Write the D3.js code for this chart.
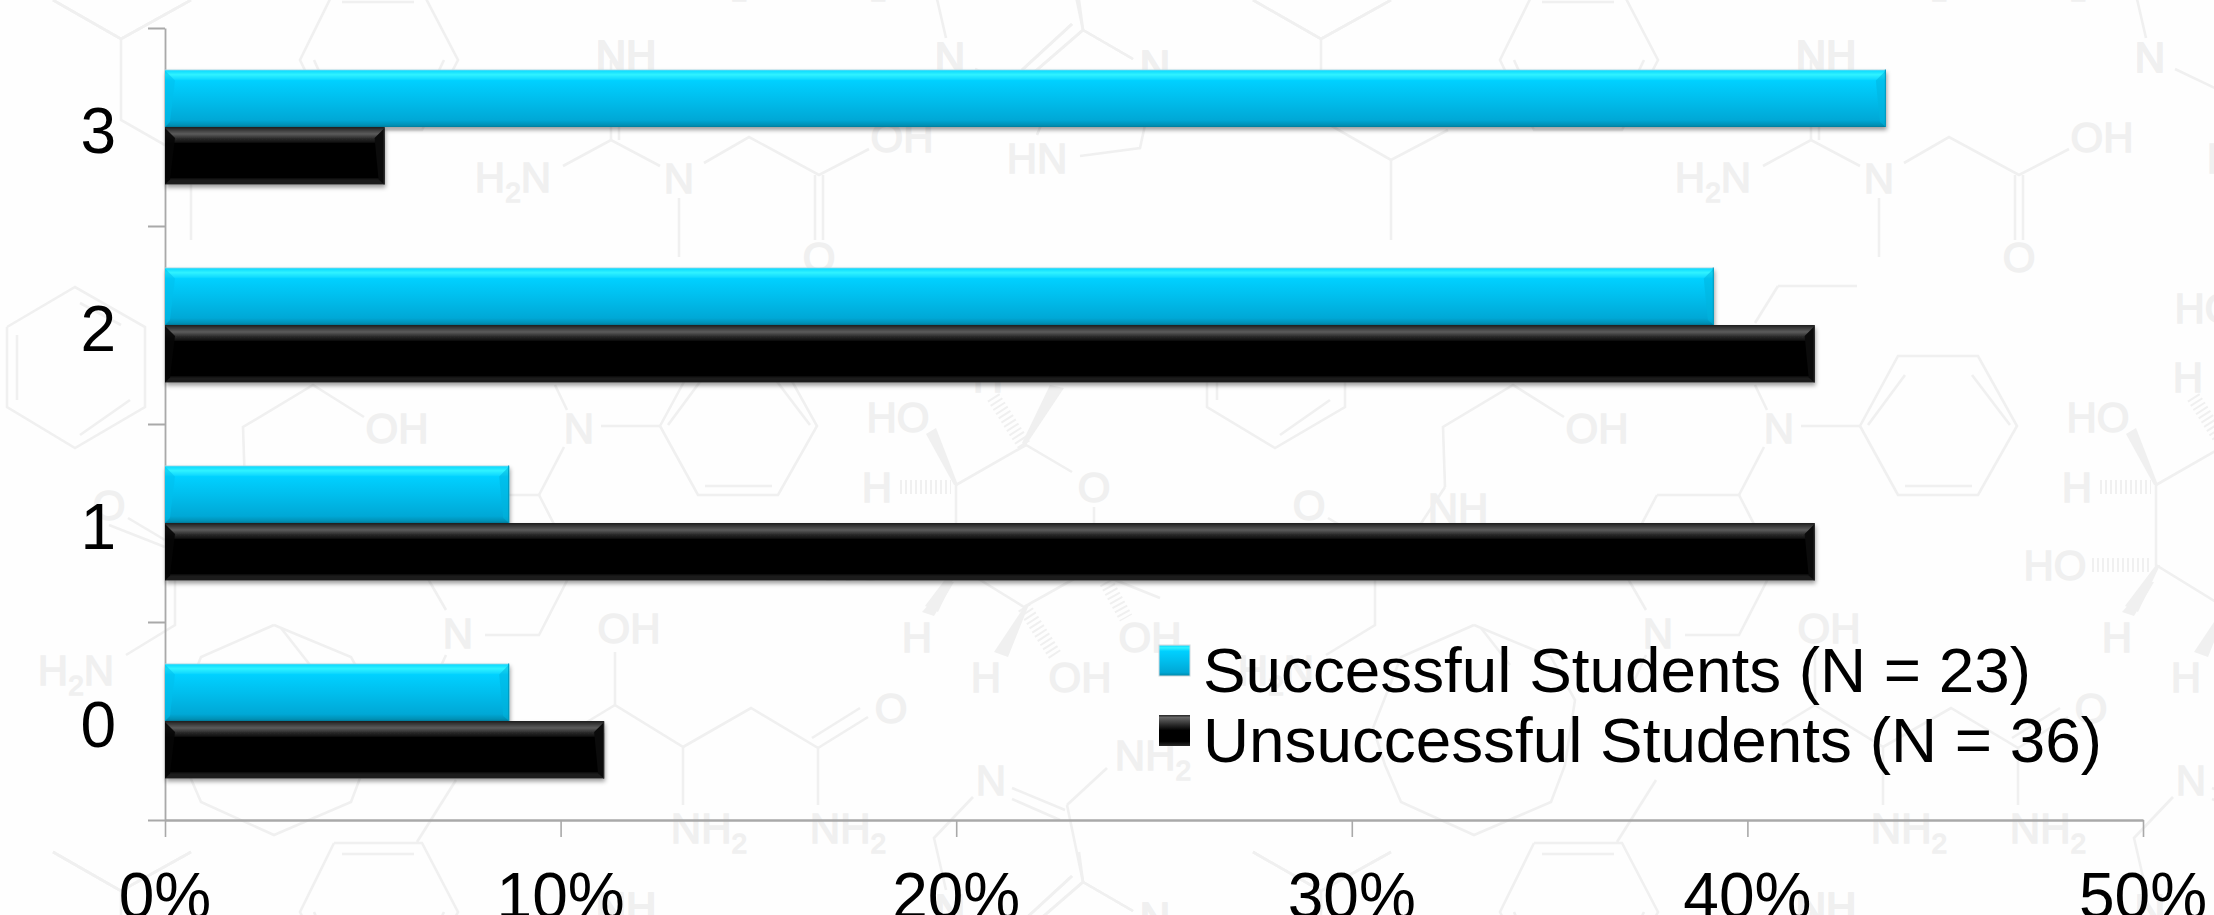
<!DOCTYPE html>
<html><head><meta charset="utf-8">
<script src="https://cdnjs.cloudflare.com/ajax/libs/d3/7.8.5/d3.min.js"></script>
<style>
html,body{margin:0;padding:0;background:#fff;overflow:hidden}
svg{display:block}
text{font-family:"Liberation Sans",Arial,sans-serif}
</style></head><body>
<svg id="c" width="2214" height="915"></svg>
<script>
// ---- chart data ----
const categories = ["3","2","1","0"];
const seriesNames = ["Successful Students (N = 23)","Unsuccessful Students (N = 36)"];
const successful = [43.5, 39.15, 8.7, 8.7];
const unsuccessful = [5.55, 41.7, 41.7, 11.1];
const xTickValues = [0,10,20,30,40,50];

// ---- decorative chemical watermark (one 1200x852 tile) ----
const wmLines = [
 [[53,0],[121,39],[191,0]],[[121,39],[121,120],[191,160],[248,130]],[[191,160],[191,240]],[[53,852],[121,891],[191,852]],
 [[334,-9],[422,-9],[458,60],[422,130],[334,130],[300,60],[334,-9]],[[342,2],[414,2]],[[314,60],[340,118]],[[444,60],[416,118]],
 [[611,60],[611,140]],[[619,70],[619,140]],[[563,166],[611,140],[660,166]],[[679,198],[679,257]],
 [[704,163],[749,137],[819,175],[869,149]],[[815,175],[815,240]],[[823,175],[823,240]],
 [[975,69],[1040,100]],[[1083,30],[1133,59]],[[1083,30],[1031,75]],[[1072,24],[1022,70]],[[1083,30],[1079,0]],
 [[1080,156],[1140,148],[1145,125]],[[1037,135],[1045,115]],
 [[7,327],[75,287],[145,327],[145,407],[75,448],[7,407],[7,327]],[[17,335],[17,400]],[[80,303],[121,325]],[[80,435],[130,400]],
 [[364,417],[313,385],[243,427],[245,487]],[[601,426],[660,426]],[[660,426],[698,356],[778,356],[817,426],[778,495],[698,495],[660,426]],
 [[668,425],[705,375]],[[772,375],[810,425]],[[705,486],[772,486]],
 [[578,286],[657,286]],[[578,286],[555,323]],[[555,385],[567,410]],[[564,447],[539,495]],
 [[457,495],[539,495],[575,565],[539,635],[485,635]],[[457,495],[420,565],[446,610]],[[446,655],[430,690]],[[456,780],[417,842]],
 [[109,525],[165,547]],[[128,518],[165,540]],[[175,555],[175,625],[126,655]],[[245,487],[220,525]],
 [[274,625],[201,657],[173,728],[185,765],[201,802],[274,835],[351,802],[365,765],[375,700],[351,657],[274,625]],[[281,628],[310,665]],
 [[615,652],[615,705],[683,747],[683,805]],[[615,705],[582,725]],[[683,747],[751,708],[818,748],[818,805]],[[818,748],[868,717]],[[812,738],[860,708]],
 [[956,485],[1026,445],[1072,472]],[[1094,507],[1094,525]],[[956,485],[956,565],[1024,607],[1090,570]],[[1090,570],[1160,598]],
 [[1067,805],[1107,768]],[[1012,788],[1065,810]],[[1012,799],[1060,820]],[[1067,805],[1083,882]],[[973,797],[934,838],[946,890]],
 [[1083,882],[1133,911]],[[1083,882],[1031,927]],[[1072,876],[1022,922]]
];
const wmWedges = [
 [[926,434],[936,428],[958,485],[954,485]],[[1026,445],[1022,443],[1050,385],[1064,388]],
 [[949,582],[954,582],[934,616],[922,612]],[[1024,607],[1028,607],[1008,657],[994,652]],[[956,565],[960,565],[938,612],[925,606]]
];
const wmHashes = [
 [[900,487],[951,487]],[[1024,445],[992,395]],[[892,565],[951,565]],[[1024,607],[1055,655]],[[1106,582],[1126,618]]
];
const wmTexts = [
 ["NH",626,55],["H|2|N",513,177],["N",679,178],["O",819,257],["OH",902,137],["N",950,57],["N",1155,65],["HN",1037,158],
 ["NH",626,907],["N",950,909],["N",1155,917],["OH",397,428],["N",579,428],["HO",898,417],["H",988,377],["H",877,487],["O",1094,487],
 ["HO",855,565],["HO",1006,308],["H",917,637],["H",986,677],["OH",1080,677],["OH",1150,637],["O",109,505],["NH",258,508],["H|2|N",76,670],
 ["N",458,633],["OH",629,628],["N|H|2",709,828],["N|H|2",848,828],["O",891,708],["N|H|2",1153,755],["N",991,780]
];

const W = 2214, H = 915;
const svg = d3.select("#c");
svg.append("rect").attr("width",W).attr("height",H).attr("fill","#fefefe");
const defs = svg.append("defs");

function vGrad(id, stops){
  const g = defs.append("linearGradient").attr("id",id).attr("x1",0).attr("y1",0).attr("x2",0).attr("y2",1);
  stops.forEach(s=>g.append("stop").attr("offset",s[0]).attr("stop-color",s[1]));
}
vGrad("gc",[[0,"#a8d8e4"],[0.025,"#12dcff"],[0.09,"#2ff2ff"],[0.2,"#00d0ff"],[0.5,"#00bfee"],[0.88,"#00a8d6"],[0.97,"#0090b4"],[1,"#007c9c"]]);
vGrad("gk",[[0,"#1c1c1c"],[0.04,"#333"],[0.12,"#5c5c5c"],[0.2,"#2c2c2c"],[0.3,"#000"],[0.88,"#000"],[0.92,"#1c1c1c"],[0.98,"#1a1a1a"],[1,"#333"]]);
vGrad("lk",[[0,"#222"],[0.08,"#666"],[0.35,"#222"],[0.5,"#000"],[0.85,"#000"],[1,"#2a2a2a"]]);
const shadow = defs.append("filter").attr("id","sh").attr("x","-5%").attr("y","-20%").attr("width","110%").attr("height","150%");
shadow.append("feDropShadow").attr("dx",1).attr("dy",3).attr("stdDeviation",2.2).attr("flood-color","#000").attr("flood-opacity",0.38);

// watermark
const wmColor = "#f0f0f0";
const tile = defs.append("g").attr("id","wm");
const line = d3.line();
tile.selectAll("path.l").data(wmLines).join("path").attr("class","l")
  .attr("d",d=>line(d)).attr("fill","none").attr("stroke",wmColor).attr("stroke-width",2.6);
tile.selectAll("path.w").data(wmWedges).join("path").attr("class","w")
  .attr("d",d=>line(d)+"Z").attr("fill",wmColor);
tile.selectAll("path.h").data(wmHashes).join("path").attr("class","h")
  .attr("d",d=>line(d)).attr("fill","none").attr("stroke",wmColor).attr("stroke-width",14).attr("stroke-dasharray","2 3");
tile.selectAll("text").data(wmTexts).join("text")
  .attr("x",d=>d[1]).attr("y",d=>d[2]+15).attr("text-anchor","middle").attr("font-size",42)
  .attr("fill",wmColor).attr("stroke",wmColor).attr("stroke-width",1.4)
  .each(function(d){
    const parts = d[0].split("|"), t = d3.select(this);
    if(parts.length===1){ t.text(d[0]); return; }
    parts.forEach((p,i)=>{
      const ts = t.append("tspan").text(p);
      if(p==="2"){ ts.attr("font-size",28).attr("dy",10); }
      else if(i>0 && parts[i-1]==="2"){ ts.attr("dy",-10); }
    });
  });
[-1200,0,1200].forEach(dx=>[-852,0,852].forEach(dy=>{
  svg.append("use").attr("href","#wm").attr("x",dx).attr("y",dy);
}));

// scales
const x = d3.scaleLinear().domain([0,50]).range([165,2143]);
const yBand = d3.scaleBand().domain(categories).range([28,820]);
const barH = 57.5;
const ySub = d3.scaleBand().domain(seriesNames)
  .range([0,yBand.bandwidth()]).paddingOuter((yBand.bandwidth()-2*barH)/2/barH).paddingInner(0);
const yTicks = d3.scaleLinear().domain([0,categories.length]).range([820,28]);

// axes
const axisCol = "#a9a9a9";
const gx = svg.append("g").attr("transform","translate(0,820)")
  .call(d3.axisBottom(x).tickValues(xTickValues).tickSize(17).tickSizeOuter(0).tickFormat(""));
const gy = svg.append("g").attr("transform","translate(165,0)")
  .call(d3.axisLeft(yTicks).ticks(categories.length).tickSize(17).tickSizeOuter(0).tickFormat(""));
[gx,gy].forEach(g=>{
  g.selectAll("line").attr("stroke",axisCol).attr("stroke-width",1.6);
  g.select(".domain").attr("stroke",axisCol).attr("stroke-width",1.8);
});
gy.selectAll("line").attr("stroke-width",2);
gx.select(".domain").attr("stroke-width",2.4);

// bars
const rows = categories.map((c,i)=>({c,vals:[successful[i],unsuccessful[i]]}));
function drawBar(g,val,yTop,isCyan){
  const x0 = x(0), w = x(val)-x(0), h = barH, b = 10;
  g.append("rect").attr("x",x0).attr("y",yTop).attr("width",w).attr("height",h)
    .attr("fill",isCyan?"url(#gc)":"url(#gk)").attr("filter","url(#sh)");
  const right = d3.path();
  right.moveTo(x0+w,yTop+1); right.lineTo(x0+w,yTop+h);
  right.lineTo(x0+w-6,yTop+h-5); right.lineTo(x0+w-b,yTop+b+1); right.closePath();
  g.append("path").attr("d",right.toString()).attr("fill",isCyan?"#00b4de":"#0b0b0b").attr("opacity",isCyan?0.55:1);
  const left = d3.path();
  left.moveTo(x0,yTop+1); left.lineTo(x0,yTop+h);
  left.lineTo(x0+5,yTop+h-5); left.lineTo(x0+b,yTop+b+1); left.closePath();
  g.append("path").attr("d",left.toString()).attr("fill",isCyan?"#00c0ec":"#050505").attr("opacity",isCyan?0.55:0.9);
  g.append("rect").attr("x",x0+w-1).attr("y",yTop).attr("width",1).attr("height",h)
    .attr("fill",isCyan?"#0098bc":"#2a2a2a");
}
const barsG = svg.append("g");
rows.forEach(r=>drawBar(barsG,r.vals[0],yBand(r.c)+ySub(seriesNames[0]),true));
rows.forEach(r=>drawBar(barsG,r.vals[1],yBand(r.c)+ySub(seriesNames[1]),false));

// tick labels
svg.append("g").selectAll("text").data(categories).join("text")
  .attr("x",116).attr("y",d=>yBand(d)+yBand.bandwidth()/2+26)
  .attr("text-anchor","end").attr("font-size",64).attr("fill","#000").text(d=>d);
svg.append("g").selectAll("text").data(xTickValues).join("text")
  .attr("x",d=>x(d)).attr("y",918).attr("text-anchor","middle")
  .attr("font-size",64).attr("fill","#000").text(d=>d+"%");

// legend
const legendY = d3.scalePoint().domain(seriesNames).range([692,762]);
const lg = svg.append("g");
seriesNames.forEach((n,i)=>{
  const by = legendY(n);
  lg.append("rect").attr("x",1159).attr("y",by-47).attr("width",31).attr("height",31)
    .attr("fill",i===0?"url(#gc)":"url(#lk)").attr("stroke","#cfd8dc").attr("stroke-width",i===0?1:0);
  lg.append("text").attr("x",1203).attr("y",by).attr("font-size",63.8).attr("fill","#000").text(n);
});
</script>
</body></html>
